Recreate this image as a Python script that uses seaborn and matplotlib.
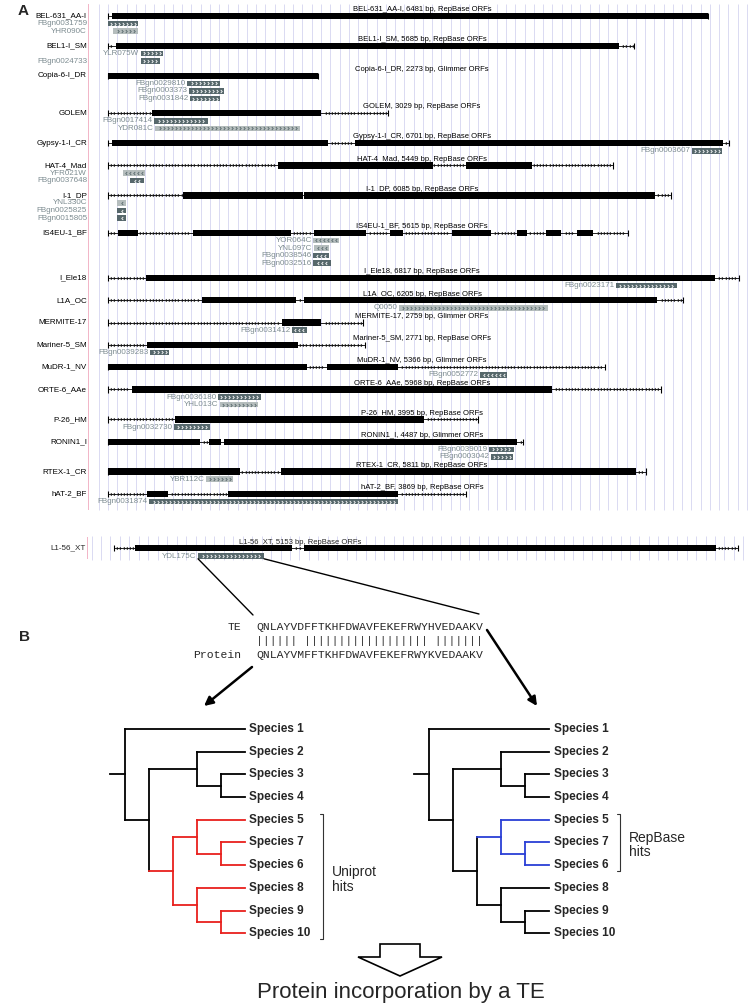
import numpy as np
import matplotlib
matplotlib.use("Agg")
import matplotlib.pyplot as plt
from matplotlib.path import Path
from matplotlib.patches import Rectangle, Polygon
import seaborn as sns

sns.set_theme(style="white")
plt.rcParams["font.family"] = ["Liberation Sans", "DejaVu Sans"]

W, H = 756, 1005

# ---------------- panel A data ----------------
te_names = ["BEL-631_AA-I", "BEL1-I_SM", "Copia-6-I_DR", "GOLEM", "Gypsy-1-I_CR",
            "HAT-4_Mad", "I-1_DP", "IS4EU-1_BF", "I_Ele18", "L1A_OC", "MERMITE-17",
            "Mariner-5_SM", "MuDR-1_NV", "ORTE-6_AAe", "P-26_HM", "RONIN1_I",
            "RTEX-1_CR", "hAT-2_BF"]
te_lengths = [6481, 5685, 2273, 3029, 6701, 5449, 6085, 5615, 6817, 6205, 2759,
              2771, 5366, 5968, 3995, 4487, 5811, 3869]
te_orf_source = ["RepBase", "RepBase", "Glimmer", "RepBase", "RepBase", "RepBase",
                 "RepBase", "RepBase", "RepBase", "RepBase", "Glimmer", "RepBase",
                 "Glimmer", "RepBase", "RepBase", "Glimmer", "RepBase", "RepBase"]
te_orfs = [
    [(40, 1172), (1182, 6481)],
    [(83, 5522)],
    [(0, 2273)],
    [(472, 2300)],
    [(40, 2372), (2667, 6645)],
    [(1839, 3506), (3866, 4575)],
    [(813, 2105), (2115, 5907)],
    [(111, 321), (915, 1976), (2228, 2783), (3045, 3189), (3712, 4133),
     (4420, 4522), (4730, 4892), (5062, 5241)],
    [(407, 6555)],
    [(1019, 2030), (2120, 5932)],
    [(1876, 2300)],
    [(425, 2055)],
    [(0, 2145), (2362, 3135)],
    [(256, 4798)],
    [(724, 3413)],
    [(0, 994), (1094, 1220), (1253, 4413)],
    [(0, 1425), (1868, 5698)],
    [(418, 645), (1300, 3135)],
]

hit_track = [0, 0, 1, 1, 2, 2, 2, 3, 3, 4, 5, 5, 6, 6, 6, 7, 7, 7, 7,
             8, 9, 10, 11, 12, 13, 13, 14, 15, 15, 16, 17]
hit_label = ["FBgn0031759", "YHR090C", "YLR075W", "FBgn0024733", "FBgn0029810",
             "FBgn0003373", "FBgn0031842", "FBgn0017414", "YDR081C", "FBgn0003607",
             "YFR021W", "FBgn0037648", "YNL330C", "FBgn0025825", "FBgn0015805",
             "YOR064C", "YNL097C", "FBgn0038546", "FBgn0032516", "FBgn0023171",
             "Q0050", "FBgn0031412", "FBgn0039283", "FBgn0052772", "FBgn0036180",
             "YHL013C", "FBgn0032730", "FBgn0039019", "FBgn0003042", "YBR112C",
             "FBgn0031874"]
hit_start = [0, 54, 353, 353, 853, 875, 886, 497, 508, 6303, 158, 238, 100, 100, 100,
             2217, 2225, 2217, 2217, 5482, 3146, 1983, 454, 4017, 1191, 1210, 716,
             4114, 4133, 1058, 443]
hit_end = [324, 324, 591, 562, 1210, 1253, 1210, 1080, 2073, 6634, 400, 389, 195, 195,
           195, 2498, 2387, 2390, 2408, 6141, 4748, 2153, 659, 4312, 1649, 1623, 1101,
           4384, 4377, 1353, 3135]
hit_row = [1, 2, 1, 2, 1, 2, 3, 1, 2, 1, 1, 2, 1, 2, 3, 1, 2, 3, 4, 1, 1, 1, 1, 1,
           1, 2, 1, 1, 2, 1, 1]
hit_shade = ["dark", "light", "dark", "dark", "dark", "dark", "dark", "dark", "light",
             "dark", "light", "dark", "light", "dark", "dark", "light", "light", "dark",
             "dark", "dark", "light", "dark", "dark", "dark", "dark", "light", "dark",
             "dark", "dark", "light", "dark"]
hit_strand = ["+", "+", "+", "+", "+", "+", "+", "+", "+", "+", "-", "-", "-", "-", "-",
              "-", "-", "-", "-", "+", "+", "-", "+", "-", "+", "+", "+", "+", "+",
              "+", "+"]
hit_label_side = ["margin", "margin", "inline", "margin", "inline", "inline", "inline",
                  "inline", "inline", "inline", "margin", "margin", "margin", "margin",
                  "margin"] + ["inline"] * 16

# zoomed L1 track
l1_name = "L1-56_XT"
l1_length = 5153
l1_orfs = [(173, 1470), (1569, 4971)]
l1_hit = ("YDL175C", 694, 1239)

# ---------------- panel B data ----------------
te_seq = "QNLAYVDFFTKHFDWAVFEKEFRWYHVEDAAKV"
protein_seq = "QNLAYVMFFTKHFDWAVFEKEFRWYKVEDAAKV"
species_order = ["Species 1", "Species 2", "Species 3", "Species 4", "Species 5",
                 "Species 7", "Species 6", "Species 8", "Species 9", "Species 10"]
species_tree = ("Species 1",
                (("Species 2", ("Species 3", "Species 4")),
                 (("Species 5", ("Species 7", "Species 6")),
                  ("Species 8", ("Species 9", "Species 10")))))
uniprot_hits = {"Species 5", "Species 7", "Species 6", "Species 8", "Species 9", "Species 10"}
repbase_hits = {"Species 5", "Species 7", "Species 6"}

# ---------------- styles ----------------
DARK = "#56676b"
LIGHT = "#b5bdbd"
LABEL_GRAY = "#7d8c91"
GRID = "#dadaf2"
PINK = "#f0a8bd"
FS = 5.5

chev_r = Path([(-0.5, 1.0), (0.5, 0.0), (-0.5, -1.0)], [Path.MOVETO, Path.LINETO, Path.LINETO])
chev_l = Path([(0.5, 1.0), (-0.5, 0.0), (0.5, -1.0)], [Path.MOVETO, Path.LINETO, Path.LINETO])


def px_axes(fig, x0, y0, x1, y1):
    ax = fig.add_axes([x0 / W, 1 - y1 / H, (x1 - x0) / W, (y1 - y0) / H])
    ax.set_ylim(y1, y0)
    ax.axis("off")
    return ax


def draw_gene(ax, y, length, orfs, scale):
    ax.plot([0, length], [y, y], color="black", lw=0.6, zorder=2, solid_capstyle="butt")
    step = 3.2 / scale
    xs = np.arange(step, length - step / 2, step)
    inside = np.zeros(len(xs), bool)
    for s, e in orfs:
        inside |= (xs > s - step / 2) & (xs < e + step / 2)
    ax.plot(xs[~inside], np.full((~inside).sum(), y), ls="none", marker=chev_r,
            ms=2.0, mew=0.5, mfc="none", mec="black", zorder=2)
    ax.vlines([0, length], y - 3.2, y + 3.2, color="black", lw=0.8, zorder=2)
    for s, e in orfs:
        ax.add_patch(Rectangle((s, y - 3.2), e - s, 6.4, fc="black", ec="none", zorder=3))


def draw_hit(ax, y, s, e, shade, strand, label, side, scale, margin_x):
    fc = DARK if shade == "dark" else LIGHT
    ax.add_patch(Rectangle((s, y - 2.8), e - s, 5.6, fc=fc, ec="none", zorder=3))
    step = 4.0 / scale
    n = max(1, int((e - s - 2 / scale) / step))
    xs = s + (e - s - n * step) / 2 + step * (np.arange(n) + 0.5)
    ax.plot(xs, np.full(n, y), ls="none", marker=chev_r if strand == "+" else chev_l,
            ms=2.2, mew=0.6, mfc="none", mec="white" if shade == "dark" else DARK, zorder=4)
    tx = margin_x if side == "margin" else s - 1.5 / scale
    ax.text(tx, y, label, ha="right", va="center", fontsize=FS + 0.3, color=LABEL_GRAY)


fig = plt.figure(figsize=(W / 100, H / 100), dpi=100)
fig.patch.set_facecolor("white")

# ---------------- panel A ----------------
A_X0, A_SCALE = 108, 0.0926
axA = px_axes(fig, 88, 0, 756, 512)
axA.set_xlim((88 - A_X0) / A_SCALE, (756 - A_X0) / A_SCALE)
marginA = (87 - A_X0) / A_SCALE

axA.vlines(np.arange(-100, 7000, 100), 4, 510, color=GRID, lw=0.7, zorder=0)
axA.vlines(axA.get_xlim()[0], 4, 510, color=PINK, lw=1.2, zorder=1)

rows_per_track = [max([r for t, r in zip(hit_track, hit_row) if t == i] + [1])
                  for i in range(len(te_names))]
track_y = [16.0]
for nr in rows_per_track[:-1]:
    track_y.append(track_y[-1] + 22.3 + 7.6 * (nr - 1))

title_x = np.mean(axA.get_xlim())
for i, name in enumerate(te_names):
    y = track_y[i]
    draw_gene(axA, y, te_lengths[i], te_orfs[i], A_SCALE)
    axA.text(marginA, y, name, ha="right", va="center", fontsize=FS + 0.3, color="black")
    axA.text(title_x, y - 6.3, f"{name}, {te_lengths[i]} bp, {te_orf_source[i]} ORFs",
             ha="center", va="center", fontsize=FS, color="black", zorder=5)

for k in range(len(hit_label)):
    y = track_y[hit_track[k]] + 7.6 * hit_row[k]
    draw_hit(axA, y, hit_start[k], hit_end[k], hit_shade[k], hit_strand[k],
             hit_label[k], hit_label_side[k], A_SCALE, marginA)

# ---------------- zoomed L1 strip ----------------
L_X0, L_SCALE = 114, 0.1211
axL = px_axes(fig, 87, 530, 756, 566)
axL.set_xlim((87 - L_X0) / L_SCALE, (756 - L_X0) / L_SCALE)
axL.vlines(np.arange(-185, 5200, 78), 536, 560, color=GRID, lw=0.7, zorder=0)
axL.vlines(axL.get_xlim()[0], 537, 559, color=PINK, lw=1.2, zorder=1)
draw_gene(axL, 548, l1_length, l1_orfs, L_SCALE)
axL.text((86 - L_X0) / L_SCALE, 548, l1_name, ha="right", va="center", fontsize=FS + 0.3)
axL.text((300 - L_X0) / L_SCALE, 542, f"{l1_name}, {l1_length} bp, RepBase ORFs",
         ha="center", va="center", fontsize=FS, zorder=5)
draw_hit(axL, 556, l1_hit[1], l1_hit[2], "dark", "+", l1_hit[0], "inline", L_SCALE, 0)

# ---------------- overlay (panel B annotations) ----------------
ov = px_axes(fig, 0, 0, W, H)
ov.set_xlim(0, W)


def to_ov(ax, x, y):
    return ov.transData.inverted().transform(ax.transData.transform((x, y)))


ov.text(23, 11, "A", fontsize=11, fontweight="bold", ha="center", va="center")
ov.text(25, 637, "B", fontsize=11, fontweight="bold", ha="center", va="center")

p0 = to_ov(axL, l1_hit[1], 558.8)
p1 = to_ov(axL, l1_hit[2], 558.8)
ov.plot([p0[0], 253], [p0[1], 615], color="black", lw=1.0)
ov.plot([p1[0], 479], [p1[1], 614], color="black", lw=1.0)

match = "".join("|" if a == b else " " for a, b in zip(te_seq, protein_seq))
mono = dict(family=["Liberation Mono", "DejaVu Sans Mono"], fontsize=8.2, va="center")
ov.text(241, 627, "TE", ha="right", **mono)
ov.text(256, 627, te_seq, ha="left", **mono)
ov.text(256, 641, match, ha="left", **mono)
ov.text(241, 654.5, "Protein", ha="right", **mono)
ov.text(256, 654.5, protein_seq, ha="left", **mono)

arrow = dict(arrowstyle="-|>", lw=1.8, color="black", mutation_scale=13, shrinkA=0, shrinkB=0)
ov.annotate("", xy=(204, 706), xytext=(252, 667), arrowprops=arrow)
ov.annotate("", xy=(537, 706), xytext=(487, 630), arrowprops=arrow)

ov.add_patch(Polygon([(380, 944), (420, 944), (420, 957), (442, 957), (400, 976),
                      (358, 957), (380, 957)], closed=True, fc="white", ec="black", lw=1.2))
ov.text(401, 992, "Protein incorporation by a TE", ha="center", va="center", fontsize=16)


# ---------------- trees ----------------
def tree_layout(node, order, out):
    if isinstance(node, str):
        return order.index(node), 0, {node}
    kids = [tree_layout(c, order, out) for c in node]
    h = max(k[1] for k in kids) + 1
    y = float(np.mean([k[0] for k in kids]))
    leaves = set().union(*[k[2] for k in kids])
    out.append((y, h, kids, leaves))
    return y, h, leaves


def draw_tree(ax, tree, order, highlight, hl_color, bracket_x, label):
    nodes = []
    ry, rh, _ = tree_layout(tree, order, nodes)
    top = 6
    line = dict(lw=1.3, solid_capstyle="projecting", clip_on=False)
    for y, h, kids, leaves in nodes:
        x = top - h
        col = hl_color if leaves <= highlight else "black"
        ys = [k[0] for k in kids]
        ax.plot([x, x], [min(ys), max(ys)], color=col, **line)
        for ky, kh, kl in kids:
            kc = hl_color if kl <= highlight else "black"
            ax.plot([x, top - kh], [ky, ky], color=kc, **line)
    ax.plot([0.375, top - rh], [ry, ry], color="black", **line)
    for i, name in enumerate(order):
        ax.text(top + 0.18, i, name, fontweight="bold", fontsize=8.5, va="center")
    idx = [order.index(s) for s in highlight]
    lo, hi = min(idx) - 0.27, max(idx) + 0.27
    ax.plot([bracket_x - 0.13, bracket_x, bracket_x, bracket_x - 0.13], [lo, lo, hi, hi],
            color="#333333", lw=0.8, clip_on=False)
    ax.text(bracket_x + 0.38, (lo + hi) / 2 + 0.12, label, fontsize=10, va="center",
            ha="left", linespacing=1.05)


for x0, hits, col, bx, lab in [(101, uniprot_hits, "#e8201c", 9.26, "Uniprot\nhits"),
                               (405.3, repbase_hits, "#2a3fd6", 8.95, "RepBase\nhits")]:
    axT = px_axes(fig, x0, 729, x0 + 144, 933.3)
    axT.set_xlim(0, 6)
    axT.set_ylim(9, 0)
    draw_tree(axT, species_tree, species_order, hits, col, bx, lab)

fig.savefig("out.png", dpi=100, facecolor="white")
